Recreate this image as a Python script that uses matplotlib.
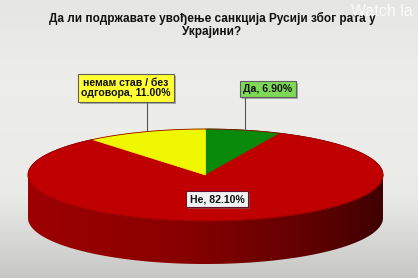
import numpy as np
import matplotlib.pyplot as plt
from matplotlib.patches import Polygon, Rectangle
from matplotlib.colors import to_rgb

title = "Да ли подржавате увођење санкција Русији због рата у\nУкрајини?"
labels = ["Да", "Не", "немам став / без\nодговора"]
values = [6.90, 82.10, 11.00]
top_colors = ["#0a8a0a", "#c00000", "#f0f800"]
box_colors = ["#7ed957", "#f2f2f2", "#ffff33"]

# pie geometry in pixels
cx, cy = 205.5, 175.0
rx, ry = 177.5, 46.0
depth = 43.0

fig = plt.figure(figsize=(4.18, 2.78), dpi=100)
ax = fig.add_axes([0, 0, 1, 1])
ax.set_xlim(0, 418)
ax.set_ylim(278, 0)
ax.axis('off')

# background gradient
g = np.linspace(0, 1, 278)
shade = np.interp(g, [0, 0.3, 0.7, 0.85, 1.0], [0.90, 0.93, 0.92, 0.85, 0.78])
bg = np.repeat(shade[:, None], 2, axis=1)
ax.imshow(np.dstack([bg, bg, bg * 0.99]), extent=[0, 418, 278, 0], aspect='auto', zorder=0)

def pt(a, dy=0.0):
    r = np.radians(a)
    return cx + rx * np.cos(r), cy - ry * np.sin(r) + dy

# angles: start at top, go clockwise
total = sum(values)
starts = []
a = 90.0
for v in values:
    starts.append((a, a - v / total * 360))
    a -= v / total * 360

# side band (front half, angles -180..0)
xg = np.linspace(0, 1, 200)
fac = np.interp(xg, [0, 0.4, 0.8, 1.0], [0.82, 0.72, 0.5, 0.33])
for (a0, a1), col in zip(starts, top_colors):
    for k in range(-1, 1):
        lo = max(a1, -180 + 360 * k)
        hi = min(a0, 0 + 360 * k)
        if hi <= lo:
            continue
        steps = np.linspace(lo, hi, 150)
        poly = [pt(s) for s in steps] + [pt(s, depth) for s in steps[::-1]]
        patch = Polygon(poly, closed=True, fc='none', ec='none', zorder=2)
        ax.add_patch(patch)
        base = np.array(to_rgb(col))
        img = fac[None, :, None] * base[None, None, :]
        im = ax.imshow(np.repeat(img, 2, axis=0), extent=[cx - rx, cx + rx, cy + ry + depth + 2, cy - 2],
                       aspect='auto', zorder=2)
        im.set_clip_path(patch)

# top face
for (a0, a1), col in zip(starts, top_colors):
    th = np.linspace(a0, a1, 120)
    xs = [cx] + [pt(t)[0] for t in th]
    ys = [cy] + [pt(t)[1] for t in th]
    ax.add_patch(Polygon(list(zip(xs, ys)), closed=True, fc=col, ec=col, lw=0.5, zorder=3))

th = np.linspace(0, 360, 300)
ax.plot([pt(t)[0] for t in th], [pt(t)[1] for t in th], color='#900000', lw=0.6, zorder=4)

# labels
font = ['Liberation Sans', 'DejaVu Sans']
label_pos = [(268, 89), (217, 199), (126, 88)]
line_ends = [((245, 98), (245, 131)), None, ((147, 103), (147, 130))]
edge_cols = ['#606060', '#6a1030', '#606060']
texts = []
for lab, v, (tx, ty), ln, bc, ec in zip(labels, values, label_pos, line_ends, box_colors, edge_cols):
    if ln is not None:
        ax.plot([ln[0][0], ln[1][0]], [ln[0][1], ln[1][1]], color='#555555', lw=0.8, zorder=5)
    txt = "%s, %.2f%%" % (lab, v)
    t = ax.text(tx, ty, txt, ha='center', va='center', fontsize=7.6, fontweight='bold',
                family=font, color='#111111', linespacing=1.1, zorder=6,
                bbox=dict(boxstyle='square,pad=0.3', fc=bc, ec=ec, lw=0.8))
    texts.append(t)

ax.text(212, 25, title, ha='center', va='center', fontsize=8.5, fontweight='bold',
        family=font, color='#111111', linespacing=1.1, zorder=6)
ax.text(351, 11, "Watch la", ha='left', va='center', fontsize=11.5, family=font,
        color='white', alpha=0.85, zorder=6)

# drop shadows behind the label boxes
fig.canvas.draw()
inv = ax.transData.inverted()
for t in texts:
    bb = t.get_bbox_patch().get_window_extent()
    (x0, y0), (x1, y1) = inv.transform([(bb.x0, bb.y0), (bb.x1, bb.y1)])
    ax.add_patch(Rectangle((min(x0, x1) + 2, min(y0, y1) + 2), abs(x1 - x0), abs(y1 - y0),
                           fc='#707070', ec='none', alpha=0.55, zorder=5.5))

fig.savefig('out.png', dpi=100)
